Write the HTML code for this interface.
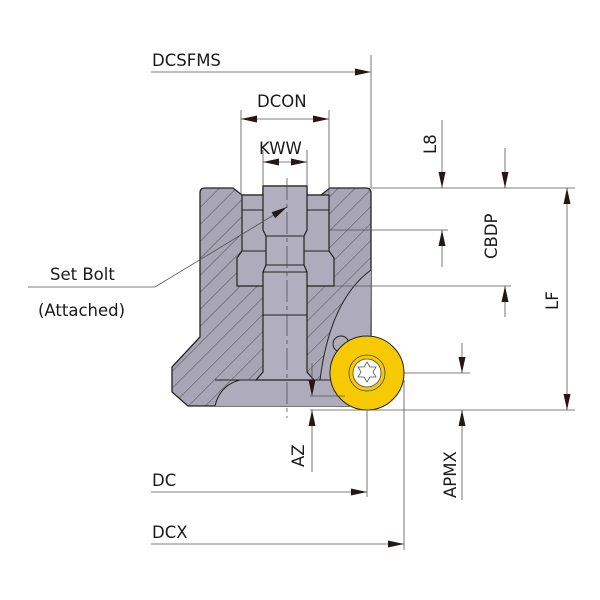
<!DOCTYPE html>
<html><head><meta charset="utf-8"><style>html,body{margin:0;padding:0;background:#fff}svg{display:block}</style></head>
<body>
<svg width="600" height="600" viewBox="0 0 600 600" xmlns="http://www.w3.org/2000/svg" font-family="DejaVu Sans, Liberation Sans, sans-serif" font-size="16.5" fill="#1a1a1a">
<defs>
<marker id="a" viewBox="0 0 16 8" refX="16" refY="4" markerWidth="16" markerHeight="8" markerUnits="userSpaceOnUse" orient="auto-start-reverse"><path d="M0,0.5 L16,4 L0,7.5z" fill="#231815"/></marker>
<pattern id="h" patternUnits="userSpaceOnUse" width="12" height="12" patternTransform="rotate(-45)"><rect width="12" height="12" fill="#a8a5b5"/><line x1="0" y1="0" x2="12" y2="0" stroke="#3a3838" stroke-width="0.8"/></pattern>
</defs>
<path d="M205,188 L233,188 L242,195 L263,195 L263,186 L307,186 L307,195 L321,195 L330,188 L366,188 Q371,188 371,193 L371,400 L360,406 L188,406 L172,392 L172,367 L200,337 L200,193 Q200,188 205,188 Z" fill="url(#h)" stroke="#222" stroke-width="1.3"/>
<path d="M371,270 Q330,300 320,380 L240,380 Q220,385 215,406 L370,406 L371,270 Z" fill="#aeabbb"/>
<path d="M371,270 Q330,300 320,380" fill="none" stroke="#222" stroke-width="1"/>
<path d="M240,380 Q220,385 215,406" fill="none" stroke="#222" stroke-width="1"/>
<line x1="215" y1="380" x2="371" y2="380" stroke="#222" stroke-width="1"/>
<path d="M242,195 L329,195 L329,251 L334,258 L334,286 L237,286 L237,258 L242,251 Z" fill="#aeabbb" stroke="#222" stroke-width="1.2"/>
<line x1="242" y1="210" x2="329" y2="210" stroke="#222"/>
<line x1="242" y1="251" x2="329" y2="251" stroke="#222"/>
<path d="M263,186 L307,186 L307,230 L304,236 L304,265 L307,272 L307,372 L314,380 L256,380 L263,372 L263,272 L266,265 L266,236 L263,230 Z" fill="#b1aebe" stroke="#222" stroke-width="1.2"/>
<line x1="266" y1="236" x2="304" y2="236" stroke="#222"/>
<line x1="266" y1="265" x2="304" y2="265" stroke="#222"/>
<line x1="263" y1="272" x2="307" y2="272" stroke="#222"/>
<line x1="263" y1="315" x2="307" y2="315" stroke="#222"/>
<circle cx="341" cy="344" r="8" fill="#aeabbb" stroke="#222"/>
<circle cx="367" cy="373" r="37" fill="#f7c900" stroke="#222" stroke-width="1"/>
<circle cx="367" cy="373" r="18" fill="none" stroke="#444" stroke-width="0.8"/>
<circle cx="367" cy="373" r="14" fill="#fff" stroke="#444" stroke-width="0.8"/>
<path d="M367,362 l3,5 6,0 -3,5 3,5 -6,0 -3,5 -3,-5 -6,0 3,-5 -3,-5 6,0z" fill="#fff" stroke="#555" stroke-width="0.8"/>
<line x1="287" y1="178" x2="287" y2="418" stroke="#444" stroke-width="0.7" stroke-dasharray="22,4,4,4"/>
<g stroke="#555" stroke-width="0.8" fill="none">
<line x1="371" y1="55" x2="371" y2="188"/>
<line x1="241" y1="110" x2="241" y2="195"/>
<line x1="329" y1="110" x2="329" y2="195"/>
<line x1="263" y1="150" x2="263" y2="186"/>
<line x1="307" y1="150" x2="307" y2="186"/>
<line x1="371" y1="188" x2="575" y2="188"/>
<line x1="330" y1="230" x2="448" y2="230"/>
<line x1="334" y1="286" x2="511" y2="286"/>
<line x1="404" y1="373" x2="470" y2="373"/>
<line x1="310" y1="396" x2="345" y2="396"/>
<line x1="310" y1="410" x2="575" y2="410"/>
<line x1="367" y1="410" x2="367" y2="497"/>
<line x1="404" y1="380" x2="404" y2="550"/>
<line x1="151" y1="72" x2="371" y2="72" marker-end="url(#a)"/>
<line x1="241" y1="119" x2="329" y2="119" marker-start="url(#a)" marker-end="url(#a)"/>
<line x1="263" y1="162" x2="307" y2="162" marker-start="url(#a)" marker-end="url(#a)"/>
<line x1="442" y1="120" x2="442" y2="188" marker-end="url(#a)"/>
<line x1="442" y1="267" x2="442" y2="230" marker-end="url(#a)"/>
<line x1="505" y1="148" x2="505" y2="188" marker-end="url(#a)"/>
<line x1="505" y1="317" x2="505" y2="286" marker-end="url(#a)"/>
<line x1="567" y1="188" x2="567" y2="410" marker-start="url(#a)" marker-end="url(#a)"/>
<line x1="462" y1="343" x2="462" y2="373" marker-end="url(#a)"/>
<line x1="462" y1="500" x2="462" y2="410" marker-end="url(#a)"/>
<line x1="312" y1="363" x2="312" y2="396" marker-end="url(#a)"/>
<line x1="312" y1="472" x2="312" y2="410" marker-end="url(#a)"/>
<line x1="151" y1="492" x2="367" y2="492" marker-end="url(#a)"/>
<line x1="151" y1="544" x2="404" y2="544" marker-end="url(#a)"/>
<polyline points="28,287 155,287 287,207" marker-end="url(#a)"/>
</g>
<text x="152" y="66">DCSFMS</text>
<text x="257" y="107">DCON</text>
<text x="259" y="154">KWW</text>
<text x="50" y="280">Set Bolt</text>
<text x="38" y="316">(Attached)</text>
<text x="152" y="486">DC</text>
<text x="152" y="538">DCX</text>
<text transform="translate(436,154) rotate(-90)">L8</text>
<text transform="translate(497,259) rotate(-90)">CBDP</text>
<text transform="translate(558,310) rotate(-90)">LF</text>
<text transform="translate(304,467) rotate(-90)">AZ</text>
<text transform="translate(456,498) rotate(-90)">APMX</text>
</svg>
</body></html>
